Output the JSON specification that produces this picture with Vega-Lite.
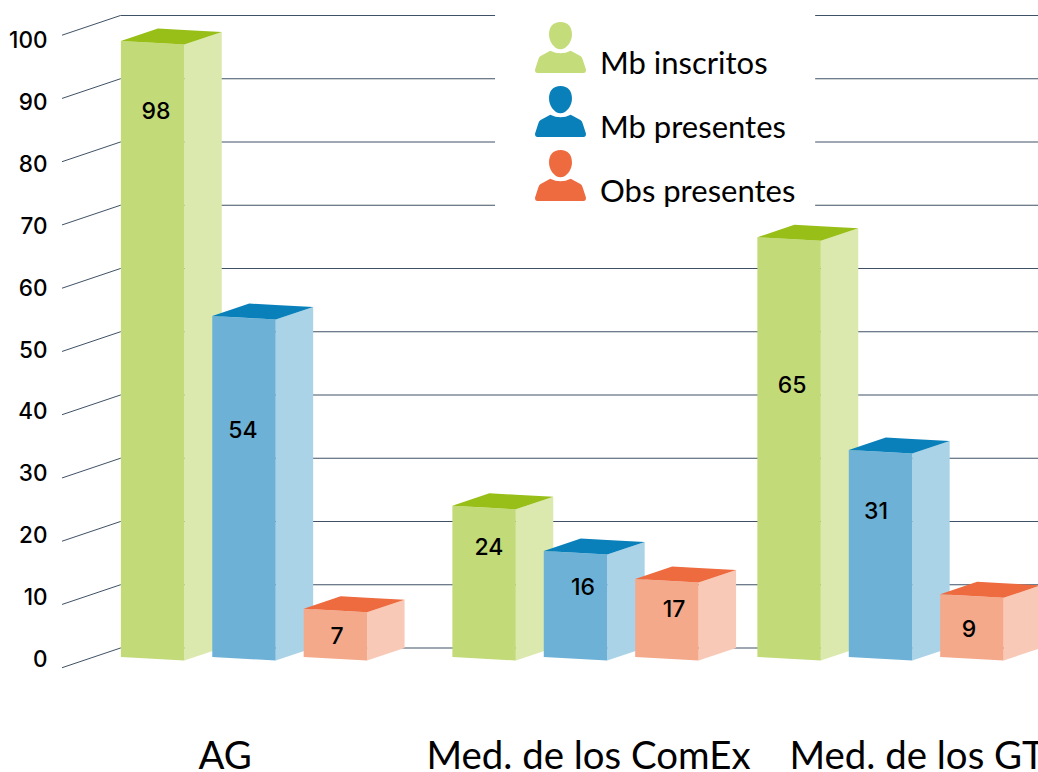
{
"$schema":"https://vega.github.io/schema/vega-lite/v6.json",
"width":988,"height":700,
"padding":{"left":50,"top":0,"right":0,"bottom":72},
"autosize":{"type":"none"},
"background":"white",
"config":{"view":{"stroke":null}},
"datasets":{
"bars":[
{"group":"AG","series":"Mb inscritos","printed":98,"drawn":97.4},
{"group":"AG","series":"Mb presentes","printed":54,"drawn":53.9},
{"group":"AG","series":"Obs presentes","printed":7,"drawn":7.64},
{"group":"Med. de los ComEx","series":"Mb inscritos","printed":24,"drawn":23.9},
{"group":"Med. de los ComEx","series":"Mb presentes","printed":16,"drawn":16.76},
{"group":"Med. de los ComEx","series":"Obs presentes","printed":17,"drawn":12.33},
{"group":"Med. de los GT","series":"Mb inscritos","printed":65,"drawn":66.35},
{"group":"Med. de los GT","series":"Mb presentes","printed":31,"drawn":32.73},
{"group":"Med. de los GT","series":"Obs presentes","printed":9,"drawn":9.91}
],
"ticks":[{"tick":0},{"tick":10},{"tick":20},{"tick":30},{"tick":40},{"tick":50},{"tick":60},{"tick":70},{"tick":80},{"tick":90},{"tick":100}]
},
"resolve":{"scale":{"y":"independent"},"axis":{"x":"independent"}},
"layer":[
{
"data":{"name":"ticks"},
"transform":[{"calculate":"0","as":"xa"}],
"mark":{"type":"point","opacity":0},
"encoding":{
"x":{"field":"xa","type":"quantitative","scale":{"domain":[-0.7713,10.0383],"nice":false,"zero":false},
"axis":{"orient":"bottom","values":[1.14,5.115,8.71],"title":null,"grid":false,"domain":false,"ticks":false,"labelOverlap":false,"labelBound":false,"labelFlush":false,"labelFont":"Lato","labelFontSize":38.4,"labelColor":"#000000","labelPadding":38,"labelLimit":600,
"labelExpr":"datum.value<3?'AG':datum.value<7?'Med. de los ComEx':'Med. de los GT'"}},
"y":{"field":"tick","type":"quantitative","scale":{"domain":[-6.54,106.54],"nice":false,"zero":false},
"axis":{"values":[0,10,20,30,40,50,60,70,80,90,100],"title":null,"grid":false,"domain":false,"ticks":false,"labelFont":"Inter","labelFontWeight":500,"labelFontSize":22.5,"labelColor":"#000000","labelPadding":3,"labelOverlap":false,"labelBound":false,"labelFlush":false,"encode":{"labels":{"update":{"dy":{"signal":"datum.value===100?-3:0"}}}}}}
}
},
{
"data":{"name":"bars"},
"transform":[
{"calculate":"datum.group==='AG'?0:datum.group==='Med. de los ComEx'?3.627:6.964","as":"start"},
{"calculate":"datum.series==='Mb inscritos'?0:datum.series==='Mb presentes'?1:2","as":"slot"},
{"calculate":"datum.start+datum.slot","as":"x0"},
{"calculate":"datum.group+'|'+datum.series","as":"key"}
],
"resolve":{"scale":{"color":"independent"}},
"layer":[
{
"data":{"name":"ticks"},
"transform":[{"calculate":"datum.tick-3.115","as":"wallFoot"},{"calculate":"-0.64","as":"xa"},{"calculate":"0","as":"xb"}],
"mark":{"type":"rule","color":"#3f5166","strokeWidth":1},
"encoding":{
"x":{"field":"xa","type":"quantitative","scale":{"domain":[-0.7713,10.0383],"nice":false,"zero":false},"axis":null},
"x2":{"field":"xb"},
"y":{"field":"wallFoot","type":"quantitative","scale":{"domain":[-8.22,102.45],"nice":false,"zero":false},"axis":null},
"y2":{"field":"tick"}
}
},
{
"data":{"name":"ticks"},
"transform":[{"calculate":"0","as":"xa"},{"calculate":"datum.tick>=70?4.098:10.0383","as":"xb"}],
"mark":{"type":"rule","color":"#3f5166","strokeWidth":1.2},
"encoding":{
"x":{"field":"xa","type":"quantitative","scale":{"domain":[-0.7713,10.0383],"nice":false,"zero":false},"axis":null},
"x2":{"field":"xb"},
"y":{"field":"tick","type":"quantitative","scale":{"domain":[-8.22,102.45],"nice":false,"zero":false},"axis":null}
}
},
{
"data":{"name":"ticks"},
"transform":[{"filter":"datum.tick>=70"},{"calculate":"7.6","as":"xa"},{"calculate":"10.0383","as":"xb"}],
"mark":{"type":"rule","color":"#3f5166","strokeWidth":1.2},
"encoding":{
"x":{"field":"xa","type":"quantitative","scale":{"domain":[-0.7713,10.0383],"nice":false,"zero":false},"axis":null},
"x2":{"field":"xb"},
"y":{"field":"tick","type":"quantitative","scale":{"domain":[-8.22,102.45],"nice":false,"zero":false},"axis":null}
}
},
{
"transform":[
{"calculate":"[0.698,1.108]","as":"dx"},
{"calculate":"[-1.973,0]","as":"foot"},
{"calculate":"[-1.973,0]","as":"rise"},
{"flatten":["dx","foot","rise"]},
{"calculate":"datum.x0+datum.dx","as":"px"},
{"calculate":"datum.drawn+datum.rise","as":"crest"}
],
"mark":{"type":"area","line":false},
"encoding":{
"x":{"field":"px","type":"quantitative","scale":{"domain":[-0.7713,10.0383],"nice":false,"zero":false},"axis":null},
"y":{"field":"crest","type":"quantitative","scale":{"domain":[-8.22,102.45],"nice":false,"zero":false},"axis":null},
"y2":{"field":"foot"},
"detail":{"field":"key"},
"color":{"field":"series","type":"nominal","legend":null,"scale":{"domain":["Mb inscritos","Mb presentes","Obs presentes"],"range":["#dce9ae","#abd3e7","#f9c9b8"]}}
}
},
{
"transform":[
{"calculate":"[0.004,0.698]","as":"dx"},
{"calculate":"[-1.423,-1.973]","as":"foot"},
{"flatten":["dx","foot"]},
{"calculate":"datum.x0+datum.dx","as":"px"},
{"calculate":"datum.drawn+datum.foot","as":"crest"}
],
"mark":{"type":"area","line":false},
"encoding":{
"x":{"field":"px","type":"quantitative","scale":{"domain":[-0.7713,10.0383],"nice":false,"zero":false},"axis":null},
"y":{"field":"crest","type":"quantitative","scale":{"domain":[-8.22,102.45],"nice":false,"zero":false},"axis":null},
"y2":{"field":"foot"},
"detail":{"field":"key"},
"color":{"field":"series","type":"nominal","legend":null,"scale":{"domain":["Mb inscritos","Mb presentes","Obs presentes"],"range":["#c3da78","#6db2d6","#f5a98b"]}}
}
},
{
"transform":[
{"calculate":"[0.004,0.409,0.698,1.108]","as":"dx"},
{"calculate":"[-1.423,0.553,0.324,0]","as":"up"},
{"calculate":"[-1.423,-1.744,-1.973,0]","as":"lo"},
{"flatten":["dx","up","lo"]},
{"calculate":"datum.x0+datum.dx","as":"px"},
{"calculate":"datum.drawn+datum.up","as":"crest"},
{"calculate":"datum.drawn+datum.lo","as":"trough"}
],
"mark":{"type":"area","line":false},
"encoding":{
"x":{"field":"px","type":"quantitative","scale":{"domain":[-0.7713,10.0383],"nice":false,"zero":false},"axis":null},
"y":{"field":"crest","type":"quantitative","scale":{"domain":[-8.22,102.45],"nice":false,"zero":false},"axis":null},
"y2":{"field":"trough"},
"detail":{"field":"key"},
"color":{"field":"series","type":"nominal","legend":null,"scale":{"domain":["Mb inscritos","Mb presentes","Obs presentes"],"range":["#97bf17","#0a80bb","#ed6b3e"]}}
}
},
{
"transform":[
{"calculate":"{'AG|Mb inscritos':0.388,'AG|Mb presentes':1.34,'AG|Obs presentes':2.369,'Med. de los ComEx|Mb inscritos':4.03,'Med. de los ComEx|Mb presentes':5.06,'Med. de los ComEx|Obs presentes':6.056,'Med. de los GT|Mb inscritos':7.347,'Med. de los GT|Mb presentes':8.266,'Med. de los GT|Obs presentes':9.283}[datum.key]","as":"tx"},
{"calculate":"{'AG|Mb inscritos':84.9,'AG|Mb presentes':34.47,'AG|Obs presentes':1.9,'Med. de los ComEx|Mb inscritos':15.97,'Med. de los ComEx|Mb presentes':9.64,'Med. de los ComEx|Obs presentes':6.17,'Med. de los GT|Mb inscritos':41.58,'Med. de los GT|Mb presentes':21.66,'Med. de los GT|Obs presentes':3.0}[datum.key]","as":"ty"}
],
"mark":{"type":"text","font":"Inter","fontWeight":500,"fontSize":23,"color":"#000000","align":"center","baseline":"middle","dy":1},
"encoding":{
"x":{"field":"tx","type":"quantitative","scale":{"domain":[-0.7713,10.0383],"nice":false,"zero":false},"axis":null},
"y":{"field":"ty","type":"quantitative","scale":{"domain":[-8.22,102.45],"nice":false,"zero":false},"axis":null},
"text":{"field":"printed","type":"quantitative"}
}
},
{
"mark":{"type":"point","filled":true,"opacity":0,"size":10},
"encoding":{
"x":{"field":"x0","type":"quantitative","scale":{"domain":[-0.7713,10.0383],"nice":false,"zero":false},"axis":null},
"y":{"field":"drawn","type":"quantitative","scale":{"domain":[-8.22,102.45],"nice":false,"zero":false},"axis":null},
"color":{"field":"series","type":"nominal","scale":{"domain":["Mb inscritos","Mb presentes","Obs presentes"],"range":["#c4dc79","#0a80bb","#ed6b3e"]},
"legend":{"orient":"none","legendX":485,"legendY":22,"title":null,"padding":0,"symbolType":"M-0.4,0.13 Q0,0.33 0.4,0.13 L0.78,0.33 Q0.85,0.37 0.88,0.5 L1,0.87 Q1,1 0.9,1 L-0.9,1 Q-1,1 -1,0.87 L-0.88,0.5 Q-0.85,0.37 -0.78,0.33 Z M0,-1 C0.3,-1 0.45,-0.8 0.45,-0.5 C0.45,-0.25 0.25,0.07 0,0.07 C-0.25,0.07 -0.45,-0.25 -0.45,-0.5 C-0.45,-0.8 -0.3,-1 0,-1 Z","symbolSize":2601,"symbolOpacity":1,"symbolStrokeWidth":0,"symbolFillColor":null,"rowPadding":6,"labelFont":"Lato","labelFontSize":31,"labelColor":"#000000","labelOffset":14,"labelLimit":400,"encode":{"labels":{"update":{"dy":{"value":17}}}}}}
}
}
]
}
]
}
